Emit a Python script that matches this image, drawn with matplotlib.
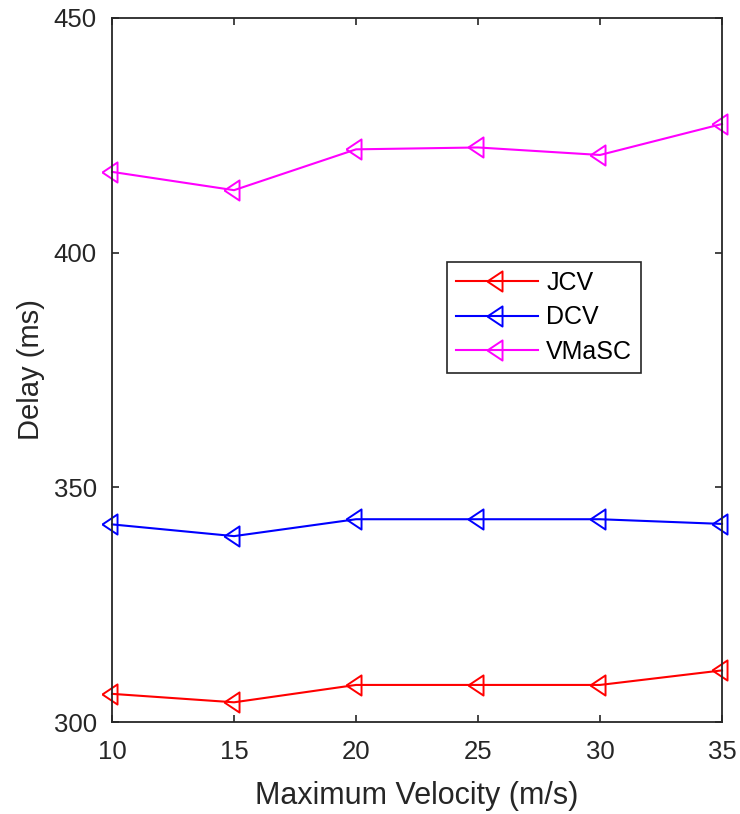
import matplotlib
matplotlib.use('Agg')
import matplotlib.pyplot as plt

# data
velocity = [10, 15, 20, 25, 30, 35]
jcv = [306.0, 304.2, 307.9, 307.9, 307.9, 311.0]
dcv = [342.1, 339.6, 343.2, 343.2, 343.2, 342.2]
vmasc = [417.2, 413.3, 422.0, 422.4, 420.8, 427.4]

plt.rcParams['font.family'] = ['Liberation Sans', 'DejaVu Sans']

# left-pointing triangle, taller than wide, centroid on the data point
tri = [(-1.0, 0.0), (0.5, 1.0), (0.5, -1.0), (-1.0, 0.0)]

fig = plt.figure(figsize=(7.4, 8.14), dpi=100)
ax = fig.add_axes([0.1514, 0.113, 0.8243, 0.865])

style = dict(marker=tri, markerfacecolor='none', markersize=14.5, markeredgewidth=1.4,
             linewidth=1.5, clip_on=False)
ax.plot(velocity, jcv, color='#ff0000', label='JCV', **style)
ax.plot(velocity, dcv, color='#0000ff', label='DCV', **style)
ax.plot(velocity, vmasc, color='#ff00ff', label='VMaSC', **style)

ax.set_xlim(10, 35)
ax.set_ylim(300, 450)
ax.set_xticks(velocity)
ax.set_yticks([300, 350, 400, 450])
ax.tick_params(direction='in', labelsize=18.5, length=5, width=1.2, top=True, right=True,
               colors='#262626', labelcolor='#262626')
ax.tick_params(axis='y', pad=11)
ax.tick_params(axis='x', pad=13)
for s in ax.spines.values():
    s.set_linewidth(1.3)
    s.set_color('#262626')

ax.set_xlabel('Maximum Velocity (m/s)', fontsize=22, color='#262626', labelpad=12)
ax.set_ylabel('Delay (ms)', fontsize=21, color='#262626', labelpad=6)

leg = ax.legend(loc='lower left', bbox_to_anchor=(0.549, 0.4957), fontsize=18, fancybox=False,
                edgecolor='#262626', framealpha=1, handlelength=3.3, handletextpad=0.32,
                borderpad=0.35, borderaxespad=0, labelspacing=0.43)
leg.get_frame().set_linewidth(1.2)

fig.savefig('out.png', dpi=100)
